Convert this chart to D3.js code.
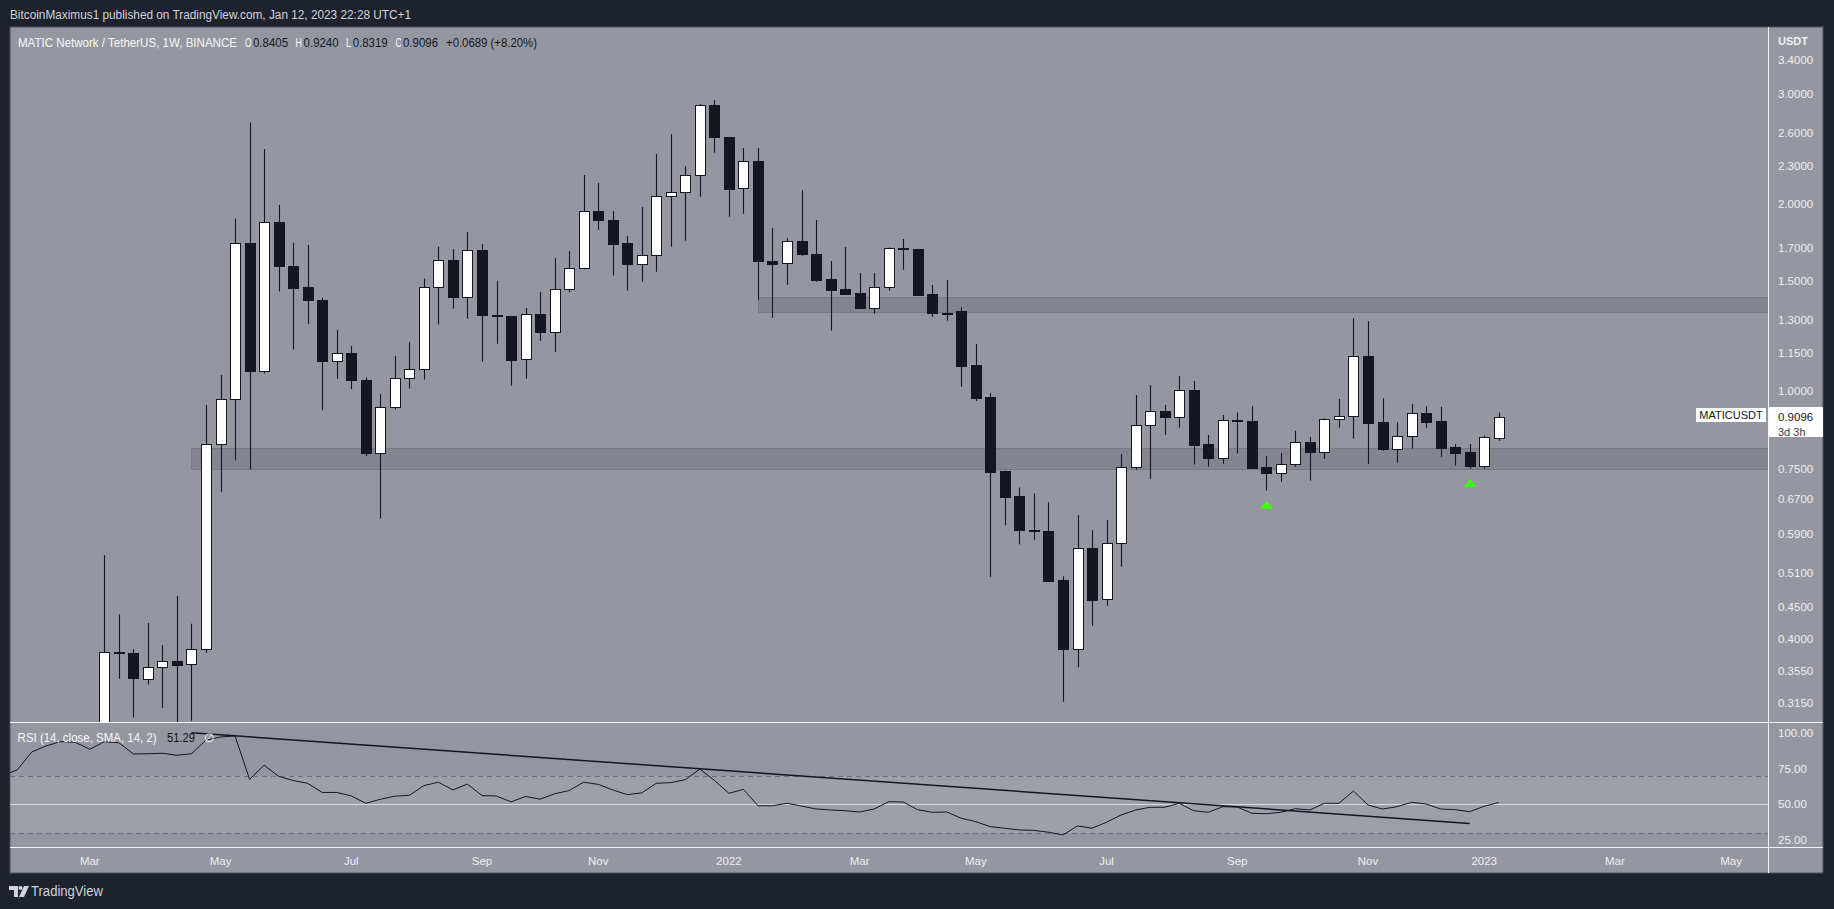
<!DOCTYPE html>
<html><head><meta charset="utf-8">
<script src="https://cdn.jsdelivr.net/npm/d3@7"></script>
<style>html,body{margin:0;padding:0;background:#1e222d;}svg{display:block}</style>
</head><body>
<svg id="c" width="1834" height="909"></svg>
<script>
// ---------- DATA ----------
const firstBar = "2021-03-08"; // weekly bars (Mondays)
const open = [0.258,0.381,0.380,0.345,0.361,0.369,0.364,0.385,0.822,0.970,
 1.726,1.075,1.868,1.585,1.468,1.400,1.116,1.149,1.043,0.795,
 0.941,1.051,1.083,1.467,1.625,1.417,1.683,1.326,1.318,1.124,
 1.328,1.243,1.456,1.574,1.943,1.885,1.726,1.597,1.652,2.054,
 2.085,2.220,2.879,2.555,2.115,2.338,1.620,1.603,1.739,1.660,
 1.513,1.458,1.437,1.361,1.467,1.695,1.690,1.431,1.336,1.344,
 1.100,0.978,0.744,0.678,0.599,0.597,0.497,0.385,0.559,0.463,
 0.571,0.754,0.881,0.928,0.907,1.003,0.822,0.782,0.897,0.895,
 0.755,0.739,0.763,0.827,0.799,0.901,0.911,1.137,0.891,0.808,
 0.846,0.921,0.894,0.813,0.797,0.759,0.8405];
const high = [0.545,0.438,0.385,0.424,0.391,0.469,0.423,0.950,1.061,1.893,
 2.699,2.446,1.990,1.729,1.716,1.412,1.254,1.181,1.051,0.989,
 1.139,1.199,1.516,1.704,1.690,1.801,1.721,1.503,1.320,1.359,
 1.442,1.635,1.678,2.222,2.157,1.945,1.774,1.974,2.402,2.586,
 2.297,2.889,2.932,2.560,2.455,2.455,1.827,1.760,2.103,1.882,
 1.617,1.703,1.547,1.547,1.700,1.754,1.692,1.480,1.507,1.364,
 1.190,0.992,0.745,0.700,0.685,0.663,0.504,0.632,0.598,0.621,
 0.792,0.985,1.022,0.950,1.057,1.038,0.850,0.915,0.924,0.946,
 0.786,0.795,0.863,0.844,0.904,0.971,1.308,1.295,0.974,0.892,
 0.953,0.946,0.943,0.822,0.822,0.848,0.9240];
const low = [0.248,0.345,0.299,0.338,0.310,0.290,0.2956,0.380,0.689,0.774,
 0.748,1.067,1.445,1.166,1.282,0.931,1.046,1.007,0.786,0.624,
 0.934,1.009,1.043,1.279,1.356,1.306,1.115,1.191,1.020,1.047,
 1.204,1.156,1.440,1.568,1.815,1.532,1.449,1.498,1.554,1.705,
 1.743,2.051,2.413,1.905,1.926,1.401,1.310,1.481,1.649,1.498,
 1.250,1.426,1.354,1.331,1.449,1.566,1.421,1.315,1.297,1.016,
 0.964,0.503,0.609,0.567,0.577,0.495,0.317,0.360,0.420,0.452,
 0.522,0.747,0.722,0.850,0.873,0.762,0.756,0.764,0.794,0.752,
 0.692,0.715,0.756,0.718,0.778,0.873,0.838,0.764,0.802,0.767,
 0.808,0.873,0.784,0.759,0.750,0.750,0.8319];
const close = [0.381,0.379,0.346,0.361,0.369,0.3635,0.385,0.822,0.970,1.726,
 1.075,1.868,1.585,1.465,1.400,1.116,1.149,1.043,0.795,0.941,
 1.051,1.083,1.467,1.625,1.417,1.683,1.326,1.320,1.123,1.328,
 1.245,1.456,1.574,1.943,1.884,1.724,1.597,1.652,2.054,2.085,
 2.220,2.879,2.555,2.112,2.338,1.619,1.601,1.739,1.658,1.509,
 1.454,1.433,1.361,1.467,1.695,1.690,1.428,1.336,1.333,1.098,
 0.976,0.742,0.677,0.599,0.597,0.496,0.385,0.559,0.462,0.571,
 0.754,0.881,0.928,0.907,1.003,0.820,0.782,0.897,0.895,0.753,
 0.739,0.763,0.827,0.799,0.901,0.911,1.137,0.889,0.808,0.846,
 0.921,0.893,0.811,0.796,0.759,0.843,0.9096];

const rsiStart = "2021-01-18";
const rsi = [70.3,74.1,86.7,91.0,94.0,93.5,88.6,
 93.9,93.2,85.3,85.5,85.8,84.4,85.5,95.0,97.2,98.0,
 67.5,77.4,69.6,66.7,64.7,58.3,58.3,55.9,50.7,53.5,
 55.7,56.3,63.1,65.5,60.1,64.2,56.1,55.8,51.7,55.5,
 53.6,57.4,59.6,65.5,64.0,60.1,56.8,58.0,64.7,65.2,
 67.3,74.7,66.8,57.7,60.5,49.0,49.0,50.7,48.8,46.7,
 46.0,45.5,44.6,46.7,51.8,51.6,46.2,44.4,44.6,40.2,
 37.8,34.3,33.2,32.0,31.7,30.4,28.5,34.8,33.2,37.4,
 42.5,46.0,47.9,47.9,50.7,45.5,44.4,48.3,48.1,43.7,
 43.4,44.4,46.9,46.0,50.7,50.7,59.3,49.5,46.7,48.3,
 51.4,50.2,46.7,46.2,44.8,48.6,51.29];

const rsiTrendDates = ["2021-04-19","2022-12-26"];
const rsiTrendValues = [100.2, 36.6];

const zoneStart = ["2021-04-19","2022-01-17"];
const zoneLow = [0.749, 1.338];
const zoneHigh = [0.809, 1.414];

const markerDates = ["2022-09-19","2022-12-26"];
const markerPrices = [0.657, 0.712];

const priceTicks = [3.4,3.0,2.6,2.3,2.0,1.7,1.5,1.3,1.15,1.0,0.75,0.67,0.59,0.51,0.45,0.40,0.355,0.315];
const rsiTicks = [100,75,50,25];
const rsiDashed = [70,30];
const rsiMid = [50];
const timeTickDates = ["2021-03-01","2021-05-03","2021-07-05","2021-09-06","2021-11-01","2022-01-03","2022-03-07","2022-05-02","2022-07-04","2022-09-05","2022-11-07","2023-01-02","2023-03-06","2023-05-01"];
const timeTickLabels = ["Mar","May","Jul","Sep","Nov","2022","Mar","May","Jul","Sep","Nov","2023","Mar","May"];
const lastPrice = 0.9096;
const symbolName = "MATICUSDT";
const countdown = "3d 3h";

// ---------- LAYOUT ----------
const FONT = "'Liberation Sans', Arial, sans-serif";
const P = {x0:10, x1:1823, y0:27, y1:873, ax:1768, priceBottom:722, rsiBottom:847};
const svg = d3.select("#c");
const WEEK = 7*864e5;
const anchor = Date.parse("2021-03-01");
const barPx = 14.525, anchorX = 89.8;
const x = d3.scaleUtc()
  .domain([new Date(anchor + (P.x0-anchorX)/barPx*WEEK), new Date(anchor + (P.ax-anchorX)/barPx*WEEK)])
  .range([P.x0, P.ax]);
const yP = d3.scaleLog().domain([0.29414, 3.8411]).range([P.priceBottom, P.y0]);
const yR = d3.scaleLinear().domain([20.03, 107.75]).range([P.rsiBottom, P.priceBottom]);

const C_DARK = "#131722", C_PANE = "#94979f", C_LINE = "#f0f1f4", C_TXT = "#eef0f3";

// background
svg.append("rect").attr("width",1834).attr("height",909).attr("fill","#1e222d");
svg.append("rect").attr("x",P.x0).attr("y",P.y0).attr("width",P.x1-P.x0).attr("height",P.y1-P.y0)
  .attr("fill",C_PANE).attr("stroke","#4a4e59").attr("stroke-width",1);

const defs = svg.append("defs");
defs.append("clipPath").attr("id","cp").append("rect")
  .attr("x",P.x0).attr("y",P.y0).attr("width",P.ax-P.x0).attr("height",P.priceBottom-P.y0);
defs.append("clipPath").attr("id","cr").append("rect")
  .attr("x",P.x0).attr("y",P.priceBottom).attr("width",P.ax-P.x0).attr("height",P.rsiBottom-P.priceBottom);

// ---------- PRICE PANE ----------
const gp = svg.append("g").attr("clip-path","url(#cp)");
const zones = zoneStart.map((d,k)=>({d:new Date(d), lo:zoneLow[k], hi:zoneHigh[k]}));
gp.selectAll("rect.zone").data(zones).join("rect").attr("class","zone")
  .attr("x",d=>Math.round(x(d.d))+0.5).attr("y",d=>Math.round(yP(d.hi))+0.5)
  .attr("width",d=>P.ax-Math.round(x(d.d))+2).attr("height",d=>Math.round(yP(d.lo))-Math.round(yP(d.hi)))
  .attr("fill","#83868e").attr("stroke","#767982").attr("stroke-width",1);

const bars = open.map((o,k)=>({date:d3.utcDay.offset(new Date(firstBar),7*k), o, h:high[k], l:low[k], c:close[k]}));
gp.selectAll("line.wick").data(bars).join("line").attr("class","wick")
  .attr("x1",d=>Math.round(x(d.date))+0.5).attr("x2",d=>Math.round(x(d.date))+0.5)
  .attr("y1",d=>yP(d.h)).attr("y2",d=>yP(d.l))
  .attr("stroke",C_DARK).attr("stroke-width",1.1);
gp.selectAll("rect.body").data(bars).join("rect").attr("class","body")
  .attr("x",d=>Math.round(x(d.date))-4.5)
  .attr("y",d=>Math.round(yP(Math.max(d.o,d.c)))+0.5)
  .attr("width",10)
  .attr("height",d=>Math.max(1,Math.round(yP(Math.min(d.o,d.c)))-Math.round(yP(Math.max(d.o,d.c)))))
  .attr("fill",d=>d.c>=d.o?"#ffffff":C_DARK).attr("stroke",C_DARK).attr("stroke-width",1);

const markers = markerDates.map((d,k)=>({d:new Date(d), p:markerPrices[k]}));
gp.selectAll("path.mk").data(markers).join("path").attr("class","mk")
  .attr("transform",d=>`translate(${x(d.d)+0.5},${yP(d.p)})`)
  .attr("d","M-6.5,4 L0,-4 L6.5,4 Z").attr("fill","#3bff0f");

// ---------- RSI PANE ----------
const gr = svg.append("g").attr("clip-path","url(#cr)");
gr.append("rect").attr("x",P.x0).attr("width",P.ax-P.x0)
  .attr("y",yR(70)).attr("height",yR(30)-yR(70)).attr("fill","rgba(255,255,255,0.085)");
gr.selectAll("line.dash").data(rsiDashed).join("line")
  .attr("x1",P.x0).attr("x2",P.ax).attr("y1",d=>Math.round(yR(d))+0.5).attr("y2",d=>Math.round(yR(d))+0.5)
  .attr("stroke","#6e717b").attr("stroke-dasharray","5,4");
gr.selectAll("line.mid").data(rsiMid).join("line")
  .attr("x1",P.x0).attr("x2",P.ax).attr("y1",d=>Math.round(yR(d))+0.5).attr("y2",d=>Math.round(yR(d))+0.5)
  .attr("stroke","#d8dade");
const rsiPts = rsi.map((v,k)=>({d:d3.utcDay.offset(new Date(rsiStart),7*k), v}));
gr.append("path").datum(rsiPts)
  .attr("d",d3.line().x(d=>x(d.d)).y(d=>yR(d.v)))
  .attr("fill","none").attr("stroke",C_DARK).attr("stroke-width",1);
const trend = rsiTrendDates.map((d,k)=>({d:new Date(d), v:rsiTrendValues[k]}));
gr.append("path").datum(trend)
  .attr("d",d3.line().x(d=>x(d.d)).y(d=>yR(d.v)))
  .attr("fill","none").attr("stroke",C_DARK).attr("stroke-width",1.5);

// ---------- SEPARATORS ----------
svg.append("line").attr("x1",P.x0).attr("x2",P.x1).attr("y1",P.priceBottom+0.5).attr("y2",P.priceBottom+0.5).attr("stroke",C_LINE);
svg.append("line").attr("x1",P.x0).attr("x2",P.x1).attr("y1",P.rsiBottom+0.5).attr("y2",P.rsiBottom+0.5).attr("stroke",C_LINE);
svg.append("line").attr("x1",P.ax+0.5).attr("x2",P.ax+0.5).attr("y1",P.y0).attr("y2",P.y1).attr("stroke",C_LINE);

// ---------- AXES ----------
const txt = (sel)=>sel.attr("font-family",FONT);
svg.append("g").selectAll("text").data(priceTicks).join("text").call(txt)
  .attr("x",P.ax+10).attr("y",d=>yP(d)).attr("dy","0.35em")
  .attr("font-size",11.5).attr("fill",C_TXT).text(d=>d.toFixed(4));
svg.append("text").call(txt).attr("x",P.ax+10).attr("y",41).attr("dy","0.35em")
  .attr("font-size",11).attr("font-weight","bold").attr("fill",C_TXT).text("USDT");
svg.append("g").selectAll("text").data(rsiTicks).join("text").call(txt)
  .attr("x",P.ax+10).attr("y",d=>yR(d)).attr("dy","0.35em")
  .attr("font-size",11.5).attr("fill",C_TXT).text(d=>d.toFixed(2));
svg.append("g").selectAll("text").data(timeTickDates).join("text").call(txt)
  .attr("x",d=>x(new Date(d))).attr("y",861).attr("dy","0.35em").attr("text-anchor","middle")
  .attr("font-size",11.5).attr("fill",C_TXT).text((d,k)=>timeTickLabels[k]);

// last price labels
const yl = yP(lastPrice);
svg.append("rect").attr("x",1696).attr("y",Math.round(yl)-9).attr("width",70).attr("height",14).attr("fill","#ffffff");
svg.append("text").call(txt).attr("x",1731).attr("y",Math.round(yl)-2).attr("dy","0.35em").attr("text-anchor","middle")
  .attr("font-size",11).attr("fill",C_DARK).text(symbolName);
svg.append("rect").attr("x",P.ax+1).attr("y",Math.round(yl)-10).attr("width",54).attr("height",30).attr("fill","#ffffff");
svg.append("text").call(txt).attr("x",P.ax+10).attr("y",yl).attr("dy","0.35em")
  .attr("font-size",11.5).attr("fill",C_DARK).text(lastPrice.toFixed(4));
svg.append("text").call(txt).attr("x",P.ax+10).attr("y",yl+16).attr("dy","0.35em")
  .attr("font-size",11).attr("fill","#3a3e4a").text(countdown);

// ---------- HEADERS ----------
function T(s,xx,yy,fill,len,size){
  const t = svg.append("text").call(txt).attr("x",xx).attr("y",yy).attr("dy","0.35em")
    .attr("font-size",size||12).attr("fill",fill).text(s);
  if(len) t.attr("textLength",len).attr("lengthAdjust","spacingAndGlyphs");
  return t;
}
T("BitcoinMaximus1 published on TradingView.com, Jan 12, 2023 22:28 UTC+1",10,15,"#d1d4dc",401,12.5);
T("MATIC Network / TetherUS, 1W, BINANCE",18,43,"#f7f8fa",219,12);
T("O",245,43,"#f7f8fa",6.5,12); T(open[open.length-1].toFixed(4),253,43,C_DARK,35,12);
T("H",295.5,43,"#f7f8fa",6.5,12); T(high[high.length-1].toFixed(4),303.6,43,C_DARK,35,12);
T("L",346,43,"#f7f8fa",5,12); T(low[low.length-1].toFixed(4),352.7,43,C_DARK,35,12);
T("C",395.5,43,"#f7f8fa",6,12); T(close[close.length-1].toFixed(4),403,43,C_DARK,35,12);
T("+0.0689 (+8.20%)",446,43,C_DARK,91,12);
T("RSI (14, close, SMA, 14, 2)",17.6,738,"#f7f8fa",139,12);
T(rsi[rsi.length-1].toFixed(2),167,738,C_DARK,28,12);
T("\u2205",204,738,"#f7f8fa",null,12);

// footer logo
const lg = svg.append("g").attr("fill","#d1d4dc");
lg.append("path").attr("d","M9,886 h9 v11 h-4 v-7 h-5 z");
lg.append("circle").attr("cx",20.5).attr("cy",888).attr("r",2);
lg.append("path").attr("d","M24,886 h5 l-5,11 h-5 z");
T("TradingView",31,891,"#d1d4dc",72,14);
</script>
</body></html>
